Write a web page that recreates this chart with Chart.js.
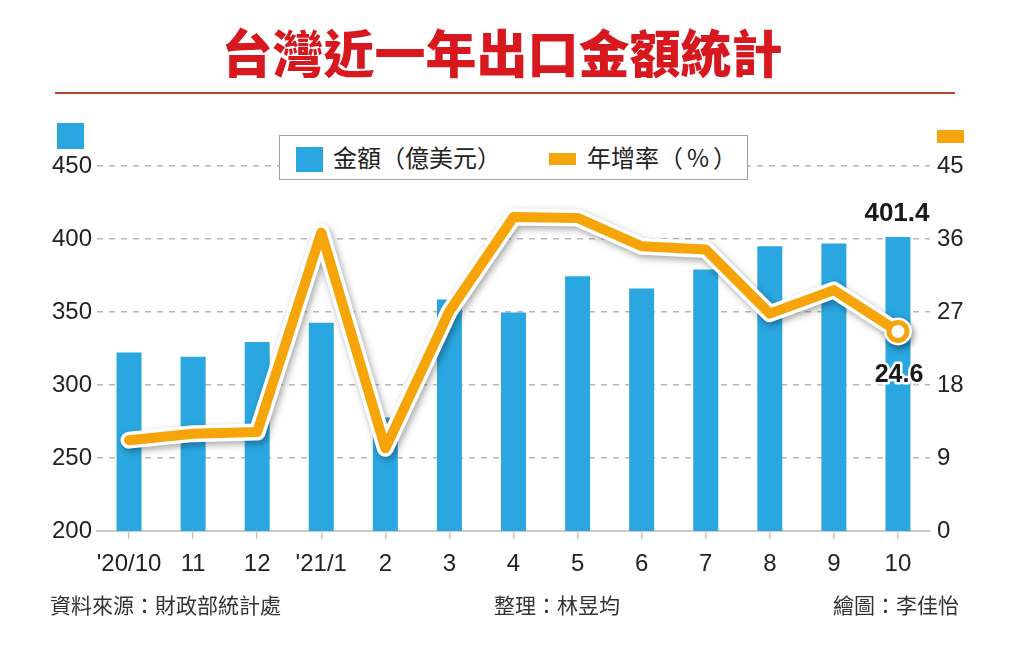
<!DOCTYPE html>
<html>
<head>
<meta charset="utf-8">
<script src="https://cdn.jsdelivr.net/npm/chart.js@4.4.1/dist/chart.umd.min.js"></script>
<style>
  body { margin: 0; background: #fff; }
  #wrap { position: relative; width: 1024px; height: 654px; overflow: hidden; background: #fff;
          font-family: "Noto Sans CJK TC", "Noto Sans CJK SC", sans-serif; }
  canvas { position: absolute; left: 0; top: 0; }
  #title { position: absolute; left: 0; width: 1004px; top: 22px; text-align: center;
           font-size: 51px; line-height: 58px; font-weight: 900; color: #D7181F; white-space: nowrap; }
  #rule { position: absolute; left: 55px; top: 92px; width: 900px; height: 2px; background: #B5452F; }
  #legend { position: absolute; left: 279px; top: 135px; width: 467px; height: 43px;
            border: 1.5px solid #a0a0a0; background: #fff; }
  .sw { position: absolute; }
  .lt { position: absolute; top: 4px; font-size: 24px; line-height: 34px; color: #222; white-space: nowrap; }
  .foot { position: absolute; top: 589px; font-size: 21px; line-height: 30px; color: #333; white-space: nowrap; }
  #ind1 { position: absolute; left: 57px; top: 123px; width: 27px; height: 26px; background: #2AA7E1; }
  #ind2 { position: absolute; left: 937px; top: 130px; width: 27px; height: 13px; background: #F5A40A; }
</style>
</head>
<body>
<div id="wrap">
  <canvas id="c" width="1024" height="654"></canvas>
  <div id="title">台灣近一年出口金額統計</div>
  <div id="rule"></div>
  <div id="ind1"></div>
  <div id="ind2"></div>
  <div id="legend">
    <div class="sw" style="left:16px;top:11px;width:27px;height:25px;background:#2AA7E1;"></div>
    <div class="lt" style="left:53px;">金額（億美元）</div>
    <div class="sw" style="left:269px;top:17px;width:27px;height:12px;background:#F5A40A;"></div>
    <div class="lt" style="left:307px;">年增率（<span style="margin:0 4px;">%</span>）</div>
  </div>
  <div class="foot" style="left:50px;">資料來源：財政部統計處</div>
  <div class="foot" style="left:494px;">整理：林昱均</div>
  <div class="foot" style="left:833px;">繪圖：李佳怡</div>
</div>
<script>
const categories = ["'20/10", "11", "12", "'21/1", "2", "3", "4", "5", "6", "7", "8", "9", "10"];
const exportValues = [322.3, 319.3, 329.5, 342.6, 277.8, 358.6, 349.7, 374.5, 366.1, 379.1, 395.0, 396.9, 401.4];
const growthRates = [11.2, 12.0, 12.2, 36.8, 10.2, 27.1, 38.7, 38.6, 35.1, 34.7, 26.8, 29.7, 24.6];
const leftTicks = [200, 250, 300, 350, 400, 450];
const rightTicks = [0, 9, 18, 27, 36, 45];

const BLUE = '#2AA7E1';
const ORANGE = '#F5A40A';
const TICK_FONT = { family: '"Liberation Sans", Arial, sans-serif', size: 24 };
const lastIdx = categories.length - 1;

const shadowPlugin = {
  id: 'lineShadow',
  beforeDatasetDraw(chart, args) {
    if (args.index === 1) {
      const ctx = chart.ctx;
      ctx.save();
      ctx.shadowColor = 'rgba(0,0,0,0.35)';
      ctx.shadowBlur = 7;
      ctx.shadowOffsetX = 2;
      ctx.shadowOffsetY = 3;
    }
  },
  afterDatasetDraw(chart, args) {
    if (args.index === 1) chart.ctx.restore();
  }
};

const valueLabels = {
  id: 'valueLabels',
  afterDatasetsDraw(chart) {
    const ctx = chart.ctx;
    const bar = chart.getDatasetMeta(0).data[lastIdx];
    const pt = chart.getDatasetMeta(2).data[lastIdx];
    ctx.save();
    ctx.textAlign = 'center';
    ctx.textBaseline = 'alphabetic';
    ctx.fillStyle = '#1a1a1a';
    ctx.font = 'bold 26px "Liberation Sans", Arial, sans-serif';
    ctx.fillText(exportValues[lastIdx].toFixed(1), bar.x - 1, bar.y - 16);
    ctx.font = 'bold 25px "Liberation Sans", Arial, sans-serif';
    ctx.lineWidth = 5;
    ctx.strokeStyle = '#fff';
    ctx.lineJoin = 'round';
    const t = growthRates[lastIdx].toFixed(1);
    ctx.strokeText(t, pt.x + 1, pt.y + 51);
    ctx.fillText(t, pt.x + 1, pt.y + 51);
    ctx.restore();
  }
};

new Chart(document.getElementById('c'), {
  data: {
    labels: categories,
    datasets: [
      {
        type: 'bar', label: '金額（億美元）', data: exportValues, yAxisID: 'yL',
        backgroundColor: BLUE, barPercentage: 0.39, categoryPercentage: 1.0, order: 3
      },
      {
        type: 'line', label: 'outline', data: growthRates, yAxisID: 'yR',
        borderColor: '#ffffff', borderWidth: 17, borderJoinStyle: 'round', borderCapStyle: 'round',
        pointRadius: growthRates.map((v, i) => i === lastIdx ? 12 : 0),
        pointBackgroundColor: '#ffffff', pointBorderColor: '#ffffff', pointBorderWidth: 4,
        tension: 0, clip: false, order: 2
      },
      {
        type: 'line', label: '年增率（%）', data: growthRates, yAxisID: 'yR',
        borderColor: ORANGE, borderWidth: 10, borderJoinStyle: 'round', borderCapStyle: 'round',
        pointRadius: growthRates.map((v, i) => i === lastIdx ? 9 : 0),
        pointBackgroundColor: '#ffffff', pointBorderColor: ORANGE, pointBorderWidth: 5,
        tension: 0, clip: false, order: 1
      }
    ]
  },
  options: {
    responsive: false,
    animation: false,
    devicePixelRatio: 1,
    layout: { padding: { top: 166, left: 0, right: 0, bottom: 0 } },
    plugins: { legend: { display: false }, tooltip: { enabled: false } },
    scales: {
      x: {
        type: 'category',
        afterFit(s) { s.height = 123; },
        grid: { display: true, drawOnChartArea: false, drawTicks: true, tickLength: 8,
                offset: false, color: '#c8c8c8', lineWidth: 1.5 },
        border: { display: true, color: '#c8c8c8', width: 2 },
        ticks: { font: TICK_FONT, color: '#222', padding: 11, maxRotation: 0, autoSkip: false }
      },
      yL: {
        type: 'linear', position: 'left', min: leftTicks[0], max: leftTicks[leftTicks.length - 1],
        afterBuildTicks(s) { s.ticks = leftTicks.map(v => ({ value: v })); },
        afterFit(s) { s.width = 97; },
        grid: { drawTicks: false, lineWidth: 1.5,
                color: (c) => (c.tick && c.tick.value === leftTicks[0]) ? 'rgba(0,0,0,0)' : '#b8b8b8' },
        border: { display: false, dash: [6, 6] },
        ticks: { font: TICK_FONT, color: '#222', padding: 5 }
      },
      yR: {
        type: 'linear', position: 'right', min: rightTicks[0], max: rightTicks[rightTicks.length - 1],
        afterBuildTicks(s) { s.ticks = rightTicks.map(v => ({ value: v })); },
        afterFit(s) { s.width = 94; },
        grid: { drawOnChartArea: false, drawTicks: false },
        border: { display: false },
        ticks: { font: TICK_FONT, color: '#222', padding: 7 }
      }
    }
  },
  plugins: [shadowPlugin, valueLabels]
});
</script>
</body>
</html>
